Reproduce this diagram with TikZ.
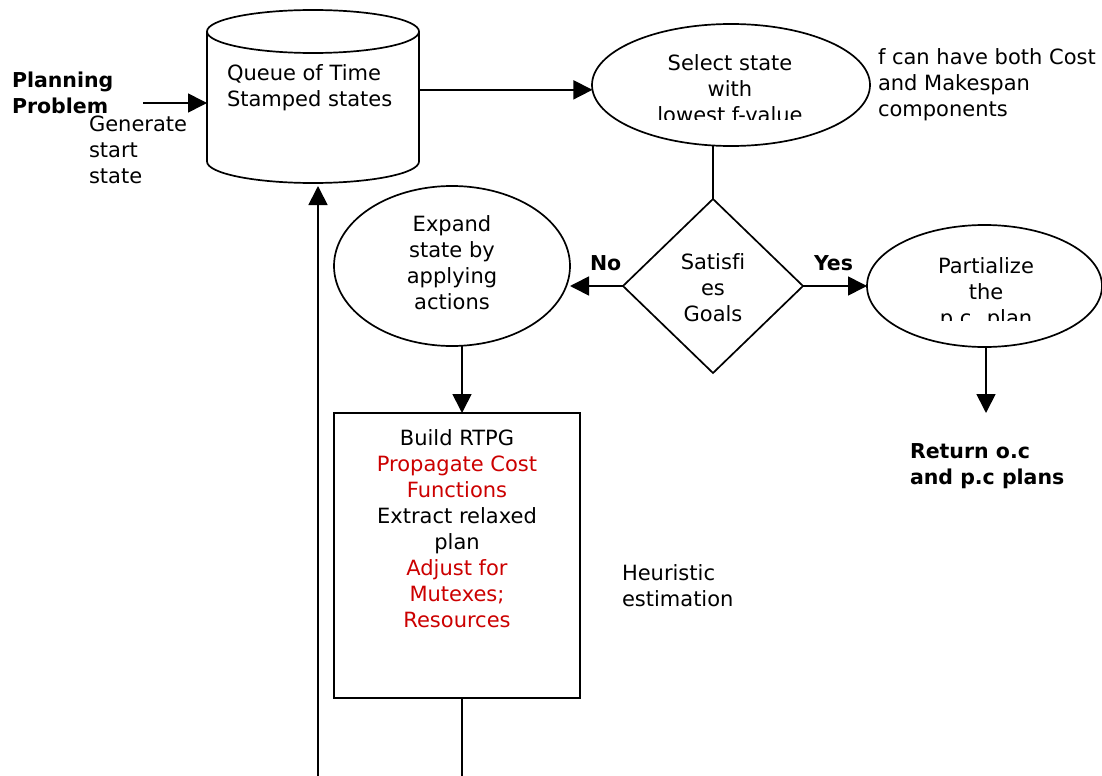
\documentclass[tikz,border=0pt]{standalone}
\usepackage{fontspec}
\setmainfont[Ligatures=NoCommon]{DejaVu Sans}
\usetikzlibrary{shapes.geometric,arrows.meta,calc}
\definecolor{txtred}{RGB}{204,0,0}
\newcommand\fl{\rule{0pt}{17bp}}
\begin{document}
\begin{tikzpicture}[x=1bp,y=-1bp, line width=1.7bp,
  every node/.style={font=\fontsize{21bp}{26bp}\selectfont, inner sep=0pt, outer sep=0pt},
  txt/.style={align=center, anchor=north},
  ltxt/.style={align=left, anchor=north west},
  bf/.style={font=\fontsize{20.5bp}{26bp}\selectfont\bfseries},
  arr/.style={-{Triangle[length=19bp,width=19bp]}},
  ell/.style={ellipse, draw, line width=1.7bp}]

\fill[white] (0,0) rectangle (1102,776);
\useasboundingbox (0,0) rectangle (1102,776);

% queue (cylinder)
\node[minimum width=212bp, minimum height=176bp] (queue) at (313,98) {};
\draw (207,31.5) -- (207,161.5) arc[start angle=180, end angle=360, x radius=106bp, y radius=21.5bp] -- (419,31.5);
\draw (313,31.5) ellipse [x radius=106bp, y radius=21.5bp];
\node[ltxt] (queuetxt) at (227,63) {\fl Queue of Time\\Stamped states};

% planning problem input
\node[ltxt, bf] (plan) at (12,70) {\fl Planning\\Problem};
\node[ltxt] (gen) at (89,114) {\fl Generate\\start\\state};
\coordinate (ppin) at (143,103);
\draw[arr] (ppin) -- (queue.west |- ppin);

% select state
\node[ell, minimum width=278bp, minimum height=122bp] (select) at (731,85) {};
\begin{scope}
  \clip (580,20) rectangle (880,119.5);
  \node[txt] (selecttxt) at (730,53) {\fl Select state\\with\\lowest f-value};
\end{scope}
\node[ltxt] (fnote) at (878,47) {\fl f can have both Cost\\and Makespan\\components};
\draw[arr] (queue.east |- select.182.5) -- (select.182.5);

% goal test
\node[diamond, draw, minimum width=180bp, minimum height=174bp] (goal) at (713,286) {};
\node[txt] (goaltxt) at (713,252) {\fl Satisfi\\es\\Goals};
\draw (goal.north |- select.south) -- (goal.north);

% expand
\node[ell, minimum width=236bp, minimum height=160bp] (expand) at (452,266) {};
\node[txt] (expandtxt) at (452,214) {\fl Expand\\state by\\applying\\actions};
\draw[arr] (goal.west) -- (goal.west -| expand.east);
\node[bf, anchor=base west] (no) at (590,270) {No};

% partialize
\node[ell, minimum width=235bp, minimum height=122bp] (part) at (984.5,286) {};
\begin{scope}
  \clip (860,220) rectangle (1102,320.5);
  \node[txt] (parttxt) at (986,256) {\fl Partialize\\the\\p.c. plan};
\end{scope}
\draw[arr] (goal.east) -- (goal.east -| part.west);
\node[bf, anchor=base west] (yes) at (814,270) {Yes};

\coordinate (retin) at (986,413);
\draw[arr] (part.south -| retin) -- (retin);
\node[ltxt, bf] (ret) at (910,441) {\fl Return o.c\\and p.c plans};

% heuristic box
\node[draw, line width=2bp, minimum width=246bp, minimum height=285bp] (build) at (457,555.5) {};
\node[txt] (buildtxt) at (457,428) {\fl Build RTPG\\\textcolor{txtred}{Propagate Cost}\\\textcolor{txtred}{Functions}\\Extract relaxed\\plan\\\textcolor{txtred}{Adjust for}\\\textcolor{txtred}{Mutexes;}\\\textcolor{txtred}{Resources}};
\draw[arr] ([xshift=10bp]expand.south) -- ([xshift=5bp]build.north);
\node[ltxt] (heur) at (622,563) {\fl Heuristic\\estimation};

% loop back
\coordinate (loopA) at (462,776);
\draw ([xshift=5bp]build.south) -- (loopA);
\coordinate (loopB) at (318,776);
\draw[arr] (loopB) -- (loopB |- queue.south);
\end{tikzpicture}
\end{document}
